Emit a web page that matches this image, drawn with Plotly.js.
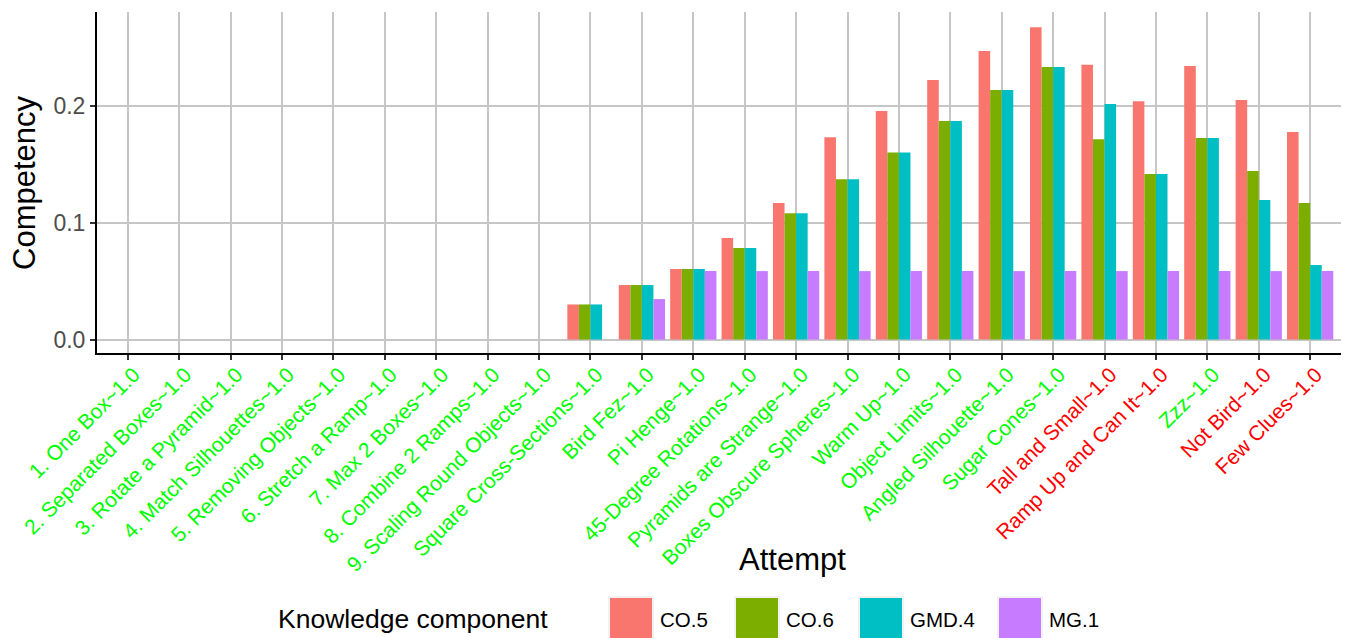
<!DOCTYPE html>
<html>
<head>
<meta charset="utf-8">
<script src="https://cdn.plot.ly/plotly-3.0.1.min.js"></script>
<style>html,body{margin:0;padding:0;background:#fff;}#chart{width:1346px;height:638px;}</style>
</head>
<body>
<div id="chart"></div>
<script>
const categories = [
  "1. One Box~1.0", "2. Separated Boxes~1.0", "3. Rotate a Pyramid~1.0", "4. Match Silhouettes~1.0",
  "5. Removing Objects~1.0", "6. Stretch a Ramp~1.0", "7. Max 2 Boxes~1.0", "8. Combine 2 Ramps~1.0",
  "9. Scaling Round Objects~1.0", "Square Cross-Sections~1.0", "Bird Fez~1.0", "Pi Henge~1.0",
  "45-Degree Rotations~1.0", "Pyramids are Strange~1.0", "Boxes Obscure Spheres~1.0", "Warm Up~1.0",
  "Object Limits~1.0", "Angled Silhouette~1.0", "Sugar Cones~1.0", "Tall and Small~1.0",
  "Ramp Up and Can It~1.0", "Zzz~1.0", "Not Bird~1.0", "Few Clues~1.0"
];
// label colour group: "g" = green, "r" = red
const labelGroup = ["g","g","g","g","g","g","g","g","g","g","g","g","g","g","g","g","g","g","g","r","r","g","r","r"];

const seriesNames = ["CO.5", "CO.6", "GMD.4", "MG.1"];
const co5  = [0,0,0,0,0,0,0,0,0, 0.030, 0.0466, 0.0603, 0.0868, 0.1167, 0.1730, 0.1953, 0.2218, 0.2466, 0.2670, 0.2350, 0.2038, 0.2338, 0.2047, 0.1774];
const co6  = [0,0,0,0,0,0,0,0,0, 0.030, 0.0466, 0.0603, 0.0782, 0.1080, 0.1370, 0.1600, 0.1868, 0.2133, 0.2329, 0.1712, 0.1415, 0.1722, 0.1440, 0.1167];
const gmd4 = [0,0,0,0,0,0,0,0,0, 0.030, 0.0466, 0.0603, 0.0782, 0.1080, 0.1370, 0.1600, 0.1868, 0.2133, 0.2329, 0.2013, 0.1415, 0.1722, 0.1192, 0.0637];
const mg1  = [0,0,0,0,0,0,0,0,0, 0, 0.0346, 0.0585, 0.0585, 0.0585, 0.0585, 0.0585, 0.0585, 0.0585, 0.0585, 0.0585, 0.0585, 0.0585, 0.0585, 0.0585];
const yTicks = [0, 0.1, 0.2];
const yTickText = ["0.0", "0.1", "0.2"];

const seriesValues = [co5, co6, gmd4, mg1];
const colors = ["#F8766D", "#7CAE00", "#00BFC4", "#C77CFF"];
const labelColors = {g: "#00FF00", r: "#FF0000"};

const traces = seriesNames.map((name, i) => ({
  type: "bar",
  name: name,
  x: categories,
  y: seriesValues[i],
  marker: {color: colors[i], line: {width: 0}},
  hoverinfo: "x+y+name"
}));

const tickText = categories.map((c, i) =>
  '<span style="color:' + labelColors[labelGroup[i]] + '">' + c + '</span>');

// plot area in pixels: x 97..1341, y 12..353
const L = 97, R = 1341, T = 12, B = 353;
const px = x => (x - L) / (R - L);
const py = y => (B - y) / (B - T);

const shapes = [];
const annotations = [];
// axis titles
annotations.push({text: "Attempt", xref: "paper", yref: "paper", x: px(792), y: py(559),
  showarrow: false, xanchor: "center", yanchor: "middle", font: {size: 31, color: "#000"}});
annotations.push({text: "Competency", xref: "paper", yref: "paper", x: px(24), y: py(183),
  showarrow: false, xanchor: "center", yanchor: "middle", textangle: -90, font: {size: 31, color: "#000"}});
// legend (manual, ggplot style keys)
annotations.push({text: "Knowledge component", xref: "paper", yref: "paper", x: px(276), y: py(619),
  showarrow: false, xanchor: "left", yanchor: "middle", font: {size: 26.5, color: "#000"}});
const keyX = [610, 736, 860, 999];
seriesNames.forEach((n, i) => {
  shapes.push({type: "rect", xref: "paper", yref: "paper", x0: px(keyX[i] - 2), x1: px(keyX[i] + 44),
    y0: py(642), y1: py(596), fillcolor: "#F2F2F2", line: {width: 0}, layer: "above"});
  shapes.push({type: "rect", xref: "paper", yref: "paper", x0: px(keyX[i]), x1: px(keyX[i] + 42),
    y0: py(640), y1: py(598), fillcolor: colors[i], line: {width: 0}, layer: "above"});
  annotations.push({text: n, xref: "paper", yref: "paper", x: px(keyX[i] + 48), y: py(619),
    showarrow: false, xanchor: "left", yanchor: "middle", font: {size: 20.5, color: "#000"}});
});

const layout = {
  width: 1346, height: 638,
  margin: {l: L, r: 1346 - R, t: T, b: 638 - B, pad: 0},
  paper_bgcolor: "#fff", plot_bgcolor: "#fff",
  font: {family: "Liberation Sans, Arial, sans-serif", color: "#000"},
  barmode: "group", bargap: 0.1, bargroupgap: 0,
  showlegend: false,
  xaxis: {
    type: "category", range: [-0.6, categories.length - 0.4],
    tickmode: "array", tickvals: categories, ticktext: tickText,
    tickangle: -45, tickfont: {size: 21},
    ticklabelshift: 6, ticklabelstandoff: -6,
    showgrid: true, gridcolor: "#C6C6C6", gridwidth: 2,
    showline: true, linecolor: "#000", linewidth: 2,
    ticks: "outside", ticklen: 5, tickcolor: "#333", tickwidth: 2,
    fixedrange: true
  },
  yaxis: {
    range: [-0.0115, 0.2800],
    tickmode: "array", tickvals: yTicks, ticktext: yTickText,
    tickfont: {size: 23, color: "#4D4D4D"},
    showgrid: true, gridcolor: "#C6C6C6", gridwidth: 2,
    zeroline: false,
    showline: true, linecolor: "#000", linewidth: 2,
    ticks: "outside", ticklen: 5, tickcolor: "#333", tickwidth: 2,
    fixedrange: true
  },
  shapes: shapes,
  annotations: annotations
};

Plotly.newPlot("chart", traces, layout, {displayModeBar: false, staticPlot: true});
</script>
</body>
</html>
